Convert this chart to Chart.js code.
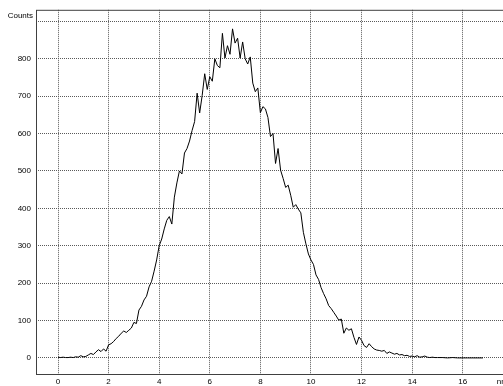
<!DOCTYPE html>
<html>
<head>
<meta charset="utf-8">
<script src="https://cdn.jsdelivr.net/npm/chart.js@4/dist/chart.umd.min.js"></script>
<style>
  html, body { margin: 0; padding: 0; background: #fff; overflow: hidden; }
  #wrap { width: 503px; height: 386px; overflow: hidden; position: relative; }
  #wrap canvas { position: absolute; left: 0; top: 0; }
</style>
</head>
<body>
<div id="wrap"><canvas id="hist" width="540" height="386"></canvas></div>
<script>
// size distribution, counts per 0.1 nm bin
const nm = [
  0.0, 0.1, 0.2, 0.3, 0.4, 0.5, 0.6, 0.7, 0.8, 0.9,
  1.0, 1.1, 1.2, 1.3, 1.4, 1.5, 1.6, 1.7, 1.8, 1.9,
  2.0, 2.1, 2.2, 2.3, 2.4, 2.5, 2.6, 2.7, 2.8, 2.9,
  3.0, 3.1, 3.2, 3.3, 3.4, 3.5, 3.6, 3.7, 3.8, 3.9,
  4.0, 4.1, 4.2, 4.3, 4.4, 4.5, 4.6, 4.7, 4.8, 4.9,
  5.0, 5.1, 5.2, 5.3, 5.4, 5.5, 5.6, 5.7, 5.8, 5.9,
  6.0, 6.1, 6.2, 6.3, 6.4, 6.5, 6.6, 6.7, 6.8, 6.9,
  7.0, 7.1, 7.2, 7.3, 7.4, 7.5, 7.6, 7.7, 7.8, 7.9,
  8.0, 8.1, 8.2, 8.3, 8.4, 8.5, 8.6, 8.7, 8.8, 8.9,
  9.0, 9.1, 9.2, 9.3, 9.4, 9.5, 9.6, 9.7, 9.8, 9.9,
  10.0, 10.1, 10.2, 10.3, 10.4, 10.5, 10.6, 10.7, 10.8, 10.9,
  11.0, 11.1, 11.2, 11.3, 11.4, 11.5, 11.6, 11.7, 11.8, 11.9,
  12.0, 12.1, 12.2, 12.3, 12.4, 12.5, 12.6, 12.7, 12.8, 12.9,
  13.0, 13.1, 13.2, 13.3, 13.4, 13.5, 13.6, 13.7, 13.8, 13.9,
  14.0, 14.1, 14.2, 14.3, 14.4, 14.5, 14.6, 14.7, 14.8, 14.9,
  15.0, 15.2, 15.4, 15.6, 15.8, 16.0, 16.2, 16.4, 16.6, 16.8
];

const counts = [
  2, 1, 2, 1, 1, 2, 1, 3, 2, 6,
  3, 4, 8, 12, 9, 16, 22, 17, 24, 18,
  35, 38, 44, 52, 58, 66, 72, 68, 74, 80,
  95, 92, 128, 138, 155, 165, 190, 205, 232, 262,
  300, 318, 345, 368, 378, 358, 430, 468, 500, 492,
  548, 560, 580, 608, 632, 708, 655, 702, 760, 718,
  752, 740, 800, 782, 776, 868, 802, 835, 812, 880,
  842, 855, 802, 845, 800, 786, 805, 735, 712, 722,
  656, 672, 666, 643, 592, 600, 520, 560, 502, 480,
  456, 462, 435, 403, 410, 398, 388, 336, 305, 278,
  262, 250, 222, 210, 188, 172, 158, 140, 132, 122,
  112, 101, 104, 66, 80, 74, 78, 55, 36, 56,
  47, 33, 28, 38, 30, 24, 21, 20, 18, 20,
  12, 16, 13, 10, 12, 8, 9, 6, 7, 4,
  5, 3, 6, 2, 3, 5, 2, 1, 2, 1,
  1, 1, 0, 1, 0, 0, 0, 0, 0, 0
];

const xTicks = [0, 2, 4, 6, 8, 10, 12, 14, 16];
const yTicks = [0, 100, 200, 300, 400, 500, 600, 700, 800, 900];

const FONT = { family: 'Liberation Sans', size: 8 };
const GRID = '#5a5a5a';
const FRAME = '#404040';

// box around the plot plus the two axis captions
const framePlugin = {
  id: 'frame',
  afterDraw(chart) {
    const { ctx, chartArea: a, scales } = chart;
    ctx.save();
    ctx.strokeStyle = FRAME;
    ctx.lineWidth = 1;
    ctx.strokeRect(a.left + 0.5, a.top + 0.5, a.right - a.left, a.bottom - a.top);
    ctx.fillStyle = '#000';
    ctx.font = `${FONT.size}px "${FONT.family}"`;
    ctx.textBaseline = 'middle';
    ctx.textAlign = 'right';
    ctx.fillText('Counts', a.left - 3, a.top + 6);
    ctx.textAlign = 'left';
    ctx.fillText('nm', scales.x.getPixelForValue(17.35), a.bottom + 8);
    ctx.restore();
  }
};

new Chart(document.getElementById('hist').getContext('2d'), {
  type: 'line',
  data: {
    datasets: [{
      data: nm.map((v, i) => ({ x: v, y: counts[i] })),
      borderColor: '#000',
      borderWidth: 1,
      pointRadius: 0,
      tension: 0,
      fill: false,
    }],
  },
  options: {
    responsive: false,
    animation: false,
    layout: { padding: { top: 9, right: 10, left: 0, bottom: 0 } },
    plugins: { legend: { display: false }, tooltip: { enabled: false } },
    scales: {
      x: {
        type: 'linear',
        min: -0.87,
        max: 18.66,
        afterBuildTicks: s => { s.ticks = xTicks.map(v => ({ value: v })); },
        afterFit: s => { s.height = 12; },
        grid: { color: GRID, drawTicks: false, tickLength: 0 },
        border: { display: false, dash: [1, 1] },
        ticks: { font: FONT, color: '#000', padding: 3, maxRotation: 0 },
      },
      y: {
        min: -43,
        max: 931,
        afterBuildTicks: s => { s.ticks = yTicks.map(v => ({ value: v })); },
        afterFit: s => { s.width = 36; },
        grid: { color: GRID, drawTicks: false, tickLength: 0 },
        border: { display: false, dash: [1, 1] },
        ticks: {
          font: FONT, color: '#000', padding: 5,
          callback: v => (v === 900 ? '' : v),
        },
      },
    },
  },
  plugins: [framePlugin],
});
</script>
</body>
</html>
